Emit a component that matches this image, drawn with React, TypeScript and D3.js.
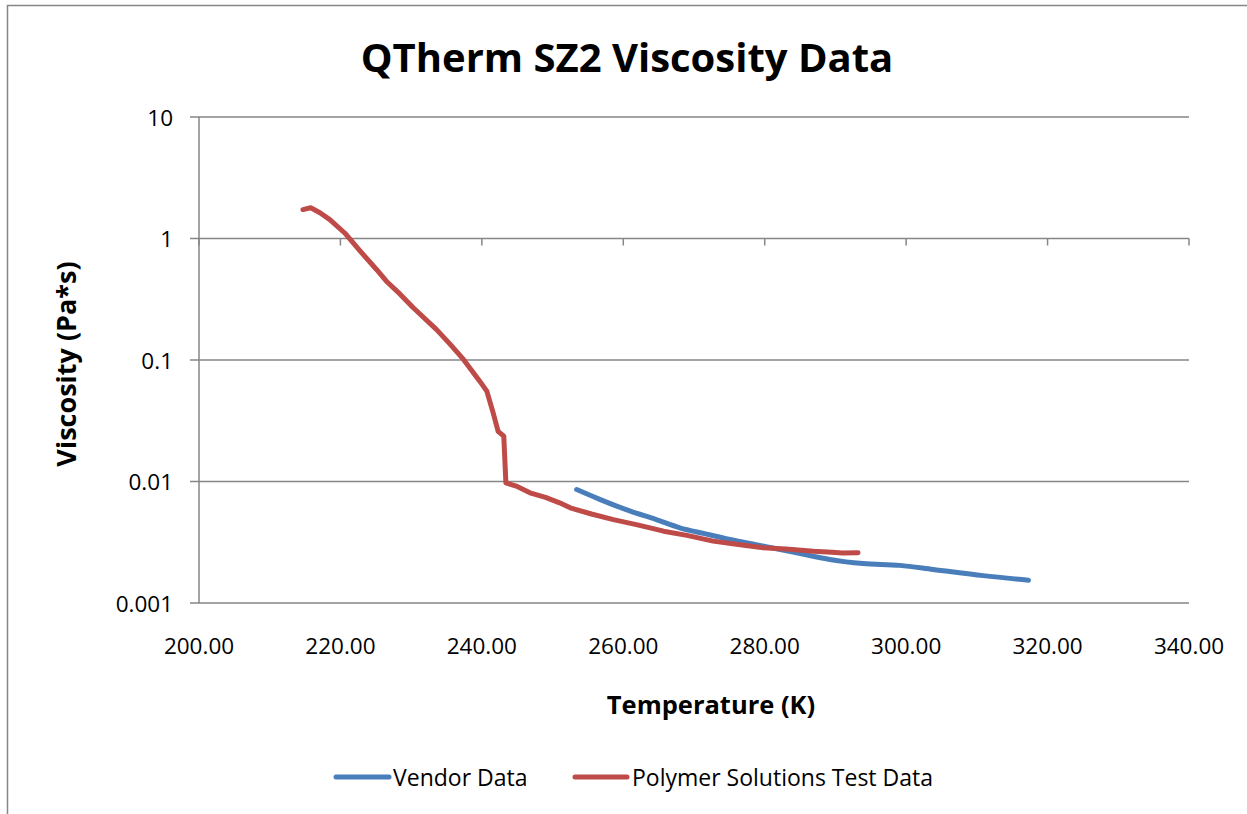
import React from "react";
import * as d3 from "d3";

const vendorT = [253.4, 256.5, 261.0, 264.5, 268.0, 271.5, 275.1, 278.6, 282.2, 285.7, 289.2, 291.5, 293.9, 299.1, 303.8, 310.9, 317.3];
const vendorV = [0.00859, 0.0072, 0.0057, 0.0049, 0.00416, 0.00372, 0.00333, 0.00303, 0.00276, 0.0025, 0.00228, 0.00218, 0.00211, 0.00204, 0.00189, 0.00168, 0.00154];

const testT = [214.7, 215.8, 217.1, 218.5, 220.6, 222.8, 225.1, 226.5, 228.4, 230.3, 233.6, 235.5, 237.4, 239.7, 240.7, 241.6, 242.3, 243.1, 243.4, 245.0, 246.8, 249.0, 251.0, 252.5, 255.5, 258.6, 262.0, 265.7, 269.0, 272.7, 276.0, 279.8, 283.0, 286.9, 289.5, 291.0, 293.2];
const testV = [1.73, 1.79, 1.63, 1.43, 1.11, 0.787, 0.556, 0.445, 0.35, 0.269, 0.178, 0.135, 0.101, 0.067, 0.0554, 0.0367, 0.0259, 0.0236, 0.00975, 0.0091, 0.00807, 0.0074, 0.00668, 0.00607, 0.0054, 0.00486, 0.0044, 0.0039, 0.0036, 0.00323, 0.00305, 0.00285, 0.00278, 0.00267, 0.00262, 0.00258, 0.00259];

const xTicks = [200, 220, 240, 260, 280, 300, 320, 340];
const yTicks = [0.001, 0.01, 0.1, 1, 10];

const title = "QTherm SZ2 Viscosity Data";
const xTitle = "Temperature (K)";
const yTitle = "Viscosity (Pa*s)";
const seriesNames = ["Vendor Data", "Polymer Solutions Test Data"];
const colors = ["#4A7EBB", "#BE4B48"];

const FONT = "'Open Sans', Lato, sans-serif";

export default function App() {
  const left = 199, right = 1189, top = 117, bottom = 603;
  const x = d3.scaleLinear().domain([200, 340]).range([left, right]);
  const y = d3.scaleLog().domain([0.001, 10]).range([bottom, top]);
  const line = d3
    .line<[number, number]>()
    .x((d) => x(d[0]))
    .y((d) => y(d[1]))
    .curve(d3.curveMonotoneX);
  const vendor: [number, number][] = vendorT.map((t, i) => [t, vendorV[i]]);
  const test: [number, number][] = testT.map((t, i) => [t, testV[i]]);
  const lineLin = d3
    .line<[number, number]>()
    .x((d) => x(d[0]))
    .y((d) => y(d[1]));
  const grid = "#868686";
  const axisY = y(1);

  return (
    <svg
      width={1247}
      height={814}
      style={{ position: "absolute", left: 0, top: 0, background: "#fff" }}
    >
      <rect x={7.5} y={5.5} width={1300} height={900} fill="#fff" stroke={grid} strokeWidth={1.5} />
      <text x={627} y={72} textAnchor="middle" fontFamily={FONT} fontWeight="bold" fontSize={40}>
        {title}
      </text>
      {yTicks.map((t) => (
        <g key={t}>
          <line x1={190} x2={right} y1={y(t)} y2={y(t)} stroke={grid} strokeWidth={1.5} />
          <text x={173} y={y(t)} textAnchor="end" dominantBaseline="central" fontFamily={FONT} fontSize={22.5}>
            {String(t)}
          </text>
        </g>
      ))}
      <line x1={left} x2={left} y1={top} y2={bottom} stroke={grid} strokeWidth={1.5} />
      {xTicks.map((t) => (
        <g key={t}>
          <line x1={x(t)} x2={x(t)} y1={axisY} y2={axisY + 7} stroke={grid} strokeWidth={1.5} />
          <text x={x(t)} y={645} textAnchor="middle" dominantBaseline="central" fontFamily={FONT} fontSize={22.5}>
            {t.toFixed(2)}
          </text>
        </g>
      ))}
      <text x={711} y={704} textAnchor="middle" dominantBaseline="central" fontFamily={FONT} fontWeight="bold" fontSize={25.5}>
        {xTitle}
      </text>
      <text
        transform={`translate(65,364) rotate(-90)`}
        textAnchor="middle"
        dominantBaseline="central"
        fontFamily={FONT}
        fontWeight="bold"
        fontSize={27}
      >
        {yTitle}
      </text>
      <path d={line(vendor) || ""} fill="none" stroke={colors[0]} strokeWidth={5} strokeLinecap="round" strokeLinejoin="round" />
      <path d={lineLin(test) || ""} fill="none" stroke={colors[1]} strokeWidth={5} strokeLinecap="round" strokeLinejoin="round" />
      <g>
        <line x1={336} x2={389} y1={777} y2={777} stroke={colors[0]} strokeWidth={5} strokeLinecap="round" />
        <text x={393} y={777} dominantBaseline="central" fontFamily={FONT} fontSize={23}>
          {seriesNames[0]}
        </text>
        <line x1={575} x2={627} y1={777} y2={777} stroke={colors[1]} strokeWidth={5} strokeLinecap="round" />
        <text x={632} y={777} dominantBaseline="central" fontFamily={FONT} fontSize={23}>
          {seriesNames[1]}
        </text>
      </g>
    </svg>
  );
}
